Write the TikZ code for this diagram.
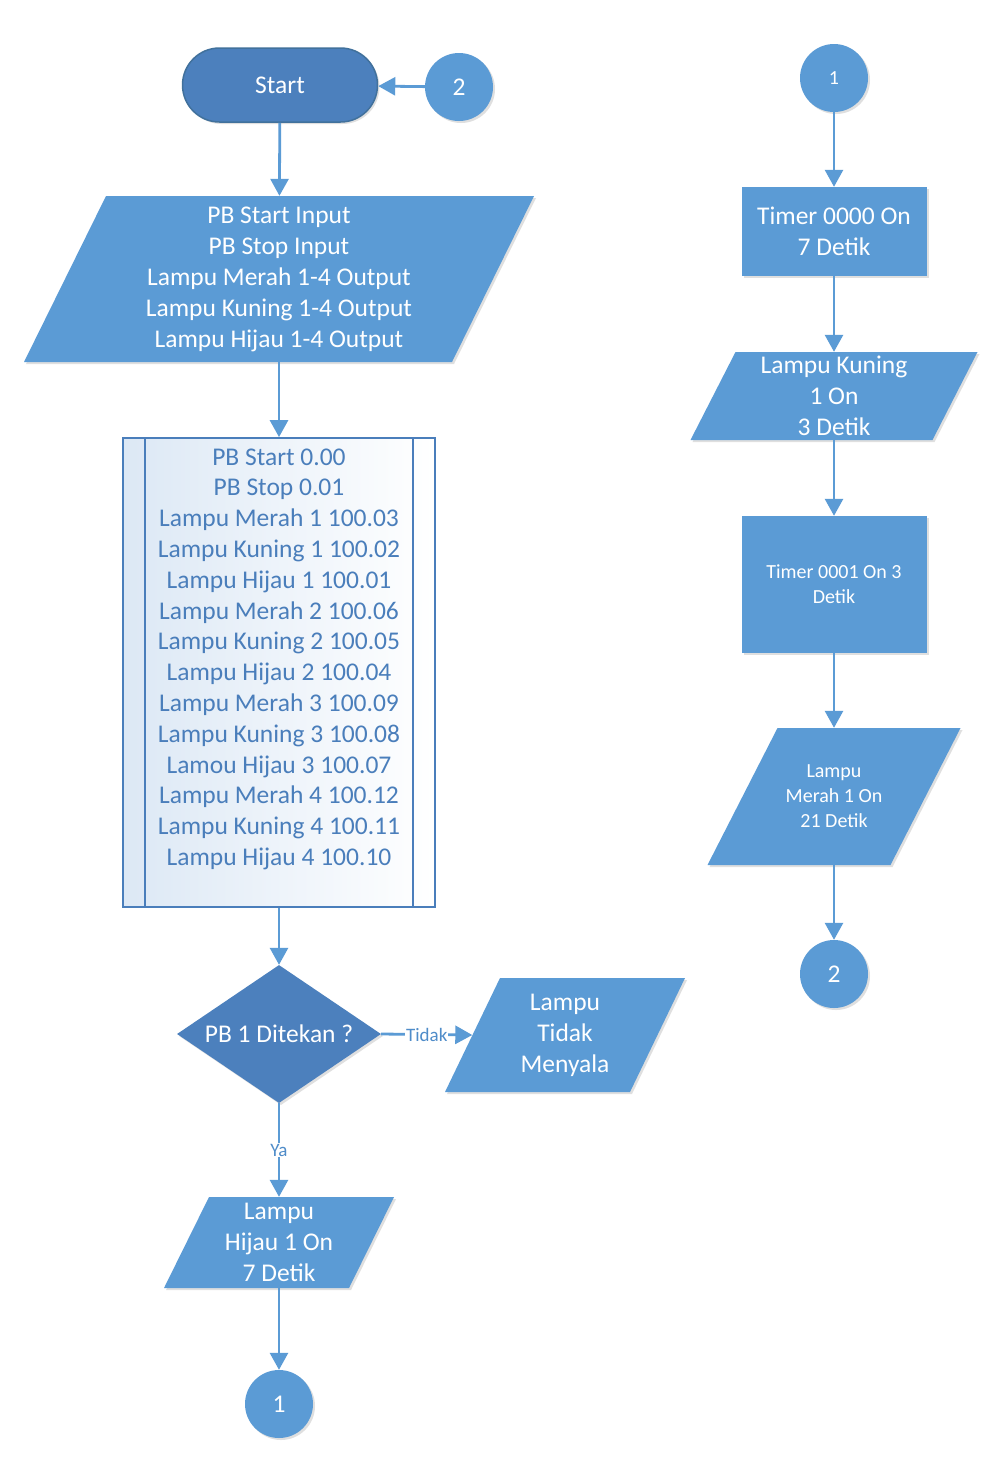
\documentclass[tikz,border=0pt]{standalone}
\usepackage{fontspec}
\setmainfont{Carlito}
\usetikzlibrary{shapes.geometric,arrows.meta,shadows}
\definecolor{fillb}{HTML}{5B9BD5}
\definecolor{darkb}{HTML}{4C80BD}
\definecolor{edgeb}{HTML}{41719C}
\definecolor{txtb}{HTML}{4A7EBB}
\definecolor{lblb}{HTML}{4F8CC9}
\definecolor{ppleft}{HTML}{DCE8F5}
% parallelogram: name, cx, cy, total width, height, slant offset, style, text
\newcommand\ioshape[8]{%
  \fill[fillb,shd] ({#2-#4/2},{#3+#5/2}) -- ({#2+#4/2-#6},{#3+#5/2})
     -- ({#2+#4/2},{#3-#5/2}) -- ({#2-#4/2+#6},{#3-#5/2}) -- cycle;
  \node[iotext,#7,minimum width={#4-#6},minimum height=#5] (#1) at (#2,#3) {#8};
}
\begin{document}
\begin{tikzpicture}[x=1pt,y=-1pt,
  shd/.style={drop shadow={opacity=0.25,shadow xshift=2pt,shadow yshift=-2pt}},
  big/.style={font=\fontsize{25.5}{31}\selectfont},
  small/.style={font=\fontsize{20}{25}\selectfont},
  conn/.style={circle,fill=fillb,minimum size=68pt,inner sep=0pt,text=white,shd},
  procbox/.style={rectangle,fill=fillb,text=white,align=center,inner sep=0pt,shd},
  iotext/.style={rectangle,text=white,align=center,inner sep=0pt},
  arr/.style={draw=fillb,line width=2.8pt,-{Triangle[length=17pt,width=18pt]}},
  lbl/.style={fill=white,text=lblb,font=\fontsize{19}{21}\selectfont,inner sep=1pt}
]
\useasboundingbox[fill=white] (0,0) rectangle (988,1460);

% left column
\node[rectangle,rounded corners=37pt,minimum width=195pt,minimum height=74pt,
  fill=darkb,draw=edgeb,line width=1.5pt,text=white,big,shd] (start) at (280,85) {Start};
\node[conn,big] (c2top) at (459,87) {2};
\ioshape{inp}{279}{279}{510}{166}{82}{big}
  {PB Start Input\\PB Stop Input\\Lampu Merah 1-4 Output\\Lampu Kuning 1-4 Output\\Lampu Hijau 1-4 Output}
\node[rectangle,draw=txtb,line width=1.8pt,left color=ppleft,right color=white,
  minimum width=312pt,minimum height=469pt,text=txtb,align=center,inner sep=0pt,
  font=\fontsize{25.5}{30.8}\selectfont] (pp) at (279,672.5)
  {PB Start 0.00\\PB Stop 0.01\\Lampu Merah 1 100.03\\Lampu Kuning 1 100.02\\Lampu Hijau 1 100.01\\
   Lampu Merah 2 100.06\\Lampu Kuning 2 100.05\\Lampu Hijau 2 100.04\\Lampu Merah 3 100.09\\
   Lampu Kuning 3 100.08\\Lamou Hijau 3 100.07\\Lampu Merah 4 100.12\\Lampu Kuning 4 100.11\\
   Lampu Hijau 4 100.10\\\mbox{}};
\draw[draw=txtb,line width=1.8pt] ([xshift=23pt]pp.north west) -- ([xshift=23pt]pp.south west);
\draw[draw=txtb,line width=1.8pt] ([xshift=-23pt]pp.north east) -- ([xshift=-23pt]pp.south east);
\node[diamond,shape aspect=1.5,minimum width=204pt,minimum height=138pt,inner sep=0pt,
  fill=darkb,text=white,big,shd] (dec) at (279,1034) {PB 1 Ditekan ?};
\ioshape{tidak}{565}{1035}{240}{114}{55}{big}{Lampu\\Tidak\\Menyala}
\ioshape{hijau}{279}{1242.5}{230}{91}{45}{big}{Lampu\\Hijau 1 On\\7 Detik}
\node[conn,big] (c1bot) at (279,1404) {1};

% right column
\node[conn,small] (c1top) at (834,78) {1};
\node[procbox,big,minimum width=185pt,minimum height=89pt] (t0) at (834,231.5)
  {Timer 0000 On\\7 Detik};
\ioshape{kuning}{834}{396}{287}{88}{45}{big}{Lampu Kuning\\1 On\\3 Detik}
\node[procbox,small,minimum width=185pt,minimum height=137pt] (t1) at (834,584.5)
  {Timer 0001 On 3\\Detik};
\ioshape{merah}{834}{796.5}{253}{137}{70}{small}{Lampu\\Merah 1 On\\21 Detik}
\node[conn,big] (c2r) at (834,974) {2};

% connectors
\draw[arr] (c2top) -- (start);
\draw[arr] (start) -- (inp);
\draw[arr] (inp) -- (pp);
\draw[arr] (pp) -- (dec);
\draw[arr] (dec.east) -- node[lbl]{Tidak} (tidak.west);
\draw[arr] (dec) -- node[lbl]{Ya} (hijau);
\draw[arr] (hijau) -- (c1bot);
\draw[arr] (c1top) -- (t0);
\draw[arr] (t0) -- (kuning);
\draw[arr] (kuning) -- (t1);
\draw[arr] (t1) -- (merah);
\draw[arr] (merah) -- (c2r);
\end{tikzpicture}
\end{document}
